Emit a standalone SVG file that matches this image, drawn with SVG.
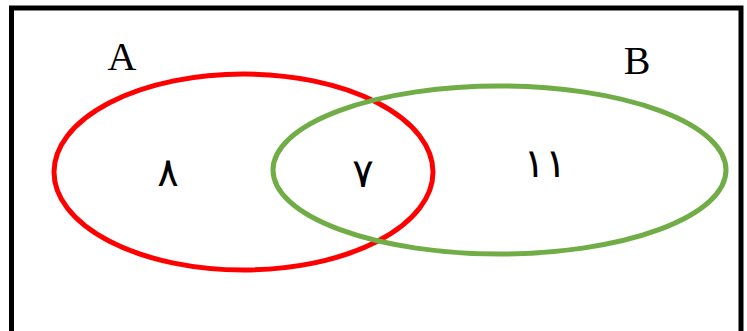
<svg xmlns="http://www.w3.org/2000/svg" width="747" height="331" viewBox="0 0 747 331">
<style>
.lbl{font-family:"Liberation Serif",serif;font-size:40px;fill:#000;text-anchor:middle}
.num{font-family:"DejaVu Sans","Noto Sans",sans-serif;font-size:40px;fill:#000;text-anchor:middle}
.set{fill:none;stroke-width:5}
</style>
<rect width="747" height="331" fill="#fff"/>
<rect x="11.5" y="8" width="729.5" height="340" fill="none" stroke="#000" stroke-width="5"/>
<g id="setA">
<ellipse class="set" cx="243.5" cy="172" rx="189.5" ry="98" stroke="#ff0000"/>
<text class="lbl" x="122" y="70">A</text>
</g>
<g id="setB">
<ellipse class="set" cx="499.5" cy="170" rx="226.5" ry="84" stroke="#70ad47"/>
<text class="lbl" x="637" y="74">B</text>
</g>
<g id="onlyA"><text class="num" x="168" y="186">٨</text></g>
<g id="both"><text class="num" x="363" y="187">٧</text></g>
<g id="onlyB"><text class="num" x="545" y="177">١١</text></g>
</svg>
